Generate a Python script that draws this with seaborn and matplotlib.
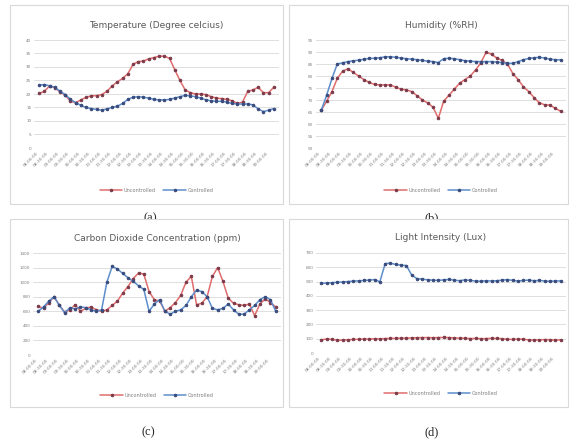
import numpy as np
import pandas as pd
import matplotlib
matplotlib.use("Agg")
import matplotlib.pyplot as plt
from matplotlib.patches import Rectangle
import seaborn as sns

sns.set_theme(style="white")
plt.rcParams['font.family'] = ['DejaVu Sans']

# ---- data ----
series_names = ["Uncontrolled", "Controlled"]
time_labels = ["08:00:00", "08:30:00", "09:00:00", "09:30:00", "10:00:00", "10:30:00",
               "11:00:00", "11:30:00", "12:00:00", "12:30:00", "13:00:00", "13:30:00",
               "14:00:00", "14:30:00", "15:00:00", "15:30:00", "16:00:00", "16:30:00",
               "17:00:00", "17:30:00", "18:00:00", "18:30:00", "19:00:00"]

temp_unctrl = [20.2, 21.0, 23.0, 22.3, 20.8, 19.5, 17.3, 16.8, 17.8, 18.8,
               19.3, 19.4, 19.8, 21.0, 23.0, 24.5, 25.8, 27.5, 31.0, 32.0,
               32.2, 33.0, 33.5, 34.0, 34.0, 33.2, 29.0, 25.0, 21.5, 20.5,
               20.0, 20.0, 19.8, 19.0, 18.5, 18.3, 18.0, 17.5, 16.5, 17.0,
               21.0, 21.5, 22.5, 20.5, 20.5, 22.5]
temp_ctrl = [23.3, 23.5, 23.0, 22.5, 21.0, 19.8, 18.0, 16.8, 15.8, 15.0,
             14.6, 14.3, 14.0, 14.5, 15.0, 15.5, 16.5, 18.0, 18.8, 19.0,
             18.8, 18.5, 18.0, 17.8, 17.8, 18.0, 18.5, 19.0, 19.5, 19.3,
             19.0, 18.5, 17.8, 17.5, 17.3, 17.3, 17.0, 16.5, 16.3, 16.3,
             16.3, 16.0, 14.5, 13.5, 14.0, 14.6]

hum_unctrl = [65.8, 69.5, 73.5, 79.0, 82.0, 83.0, 81.5, 80.0, 78.5, 77.3,
              76.5, 76.3, 76.3, 76.3, 75.3, 74.5, 74.2, 73.5, 71.8, 70.0,
              68.8, 67.0, 62.4, 69.5, 72.0, 74.5, 77.0, 78.5, 80.0, 82.5,
              85.5, 90.0, 89.0, 87.5, 86.5, 85.0, 81.0, 78.5, 75.5, 73.5,
              71.0, 68.8, 68.0, 67.9, 66.5, 65.3]
hum_ctrl = [65.8, 72.0, 79.0, 85.0, 85.5, 86.0, 86.3, 86.6, 87.0, 87.3,
            87.4, 87.6, 88.0, 88.0, 87.8, 87.5, 87.2, 87.0, 86.8, 86.5,
            86.2, 86.0, 85.6, 87.2, 87.4, 87.2, 86.8, 86.4, 86.2, 86.0,
            86.0, 86.0, 86.0, 85.8, 85.6, 85.3, 85.3, 86.0, 86.8, 87.3,
            87.6, 87.8, 87.5, 87.0, 86.8, 86.7]

co2_unctrl = [666, 640, 720, 800, 680, 590, 620, 690, 600, 640,
              660, 620, 600, 620, 680, 740, 850, 940, 1050, 1125,
              1110, 870, 760, 740, 600, 650, 720, 820, 1000, 1080,
              690, 710, 800, 1080, 1200, 1010, 780, 710, 690, 680,
              700, 540, 700, 770, 720, 660]
co2_ctrl = [600, 660, 740, 800, 680, 580, 650, 630, 660, 650,
            620, 600, 620, 1000, 1216, 1180, 1120, 1060, 1010, 950,
            900, 600, 700, 760, 600, 560, 600, 620, 680, 800,
            890, 870, 800, 640, 620, 640, 700, 620, 560, 560,
            620, 680, 760, 800, 760, 600]

light_unctrl = [92, 98, 95, 90, 90, 93, 95, 96, 98, 97,
                100, 99, 101, 102, 103, 104, 104, 106, 107, 108,
                108, 107, 108, 109, 108, 106, 104, 103, 101, 102,
                100, 101, 103, 102, 100, 96, 95, 98, 96, 92,
                90, 92, 94, 93, 90, 92]
light_ctrl = [487, 490, 492, 495, 497, 500, 503, 505, 508, 510,
              514, 498, 626, 628, 620, 615, 612, 545, 520, 517,
              512, 510, 508, 512, 515, 510, 506, 512, 508, 504,
              502, 506, 504, 506, 510, 514, 508, 504, 508, 510,
              506, 508, 504, 502, 504, 505]

panels = [
    ("Temperature (Degree celcius)", temp_unctrl, temp_ctrl, np.arange(0, 41, 5)),
    ("Humidity (%RH)", hum_unctrl, hum_ctrl, np.arange(50, 96, 5)),
    ("Carbon Dioxide Concentration (ppm)", co2_unctrl, co2_ctrl, np.arange(0, 1401, 200)),
    ("Light Intensity (Lux)", light_unctrl, light_ctrl, np.arange(0, 701, 100)),
]
captions = ["(a)", "(b)", "(c)", "(d)"]

# ---- layout in pixels (x0, y0, x1, y1), origin top-left ----
W, H = 569, 444
frames = [(10, 5, 283, 204), (289, 5, 568, 204), (10, 219, 283, 407), (289, 219, 568, 407)]
axes_px = [(34, 40, 279, 148), (316, 40, 566, 148), (33, 253, 281, 355), (316, 253, 566, 353)]
caption_pos = [(150, 218), (432, 218), (148, 432), (432, 432)]

line_colors = ["#E06C6C", "#5C8ECB"]
marker_colors = ["#7B3A4A", "#3A4A7B"]
grey = "#7F7F7F"

fig = plt.figure(figsize=(W / 100, H / 100), dpi=100)


def fx(px):
    return px / W


def fy(py):
    return 1 - py / H


for i, (x0, y0, x1, y1) in enumerate(frames):
    fig.patches.append(Rectangle((fx(x0), fy(y1)), fx(x1 - x0), (y1 - y0) / H,
                                 transform=fig.transFigure, facecolor="white",
                                 edgecolor="#D9D9D9", linewidth=0.8, zorder=1.5))
    cx, cy = caption_pos[i]
    fig.text(fx(cx), fy(cy), captions[i], ha="center", va="center",
             fontsize=9, family="Liberation Serif", zorder=1)

n = len(temp_unctrl)
idx = np.arange(n)

for i, (title, unctrl, ctrl, yticks) in enumerate(panels):
    x0, y0, x1, y1 = axes_px[i]
    ax = fig.add_axes([fx(x0), fy(y1), fx(x1 - x0), (y1 - y0) / H])
    ax.set_zorder(3)
    ax.patch.set_alpha(0)
    df = pd.DataFrame({"idx": np.concatenate([idx, idx]),
                       "value": np.concatenate([unctrl, ctrl]),
                       "series": [series_names[0]] * n + [series_names[1]] * n})
    for k, name in enumerate(series_names):
        sub = df[df["series"] == name]
        sns.lineplot(data=sub, x="idx", y="value", ax=ax, color=line_colors[k],
                     linewidth=1.1, marker="o", markersize=1.8,
                     mfc=marker_colors[k], mec=marker_colors[k], label=name)
    ax.set_xlim(-1, n)
    ax.set_ylim(yticks[0], yticks[-1])
    ax.set_yticks(yticks)
    ax.set_yticklabels([str(v) for v in yticks], fontsize=3, color=grey)
    ax.set_xticks(idx[::2])
    ax.set_xticklabels(time_labels, rotation=45, ha="right", fontsize=3.2, color=grey)
    ax.tick_params(length=0, pad=2)
    ax.grid(axis="y", color="#D9D9D9", linewidth=0.6)
    for s in ax.spines.values():
        s.set_visible(False)
    ax.set_xlabel("")
    ax.set_ylabel("")
    ax.set_title(title, fontsize=6.5, color="#595959", pad=9)
    sns.move_legend(ax, "upper center", bbox_to_anchor=(0.5, -0.33), ncol=2,
                    frameon=False, fontsize=3.6, title=None, handlelength=4.5,
                    columnspacing=1.5, handletextpad=0.3)
    for t in ax.get_legend().get_texts():
        t.set_color(grey)

fig.savefig("out.png", dpi=100)
